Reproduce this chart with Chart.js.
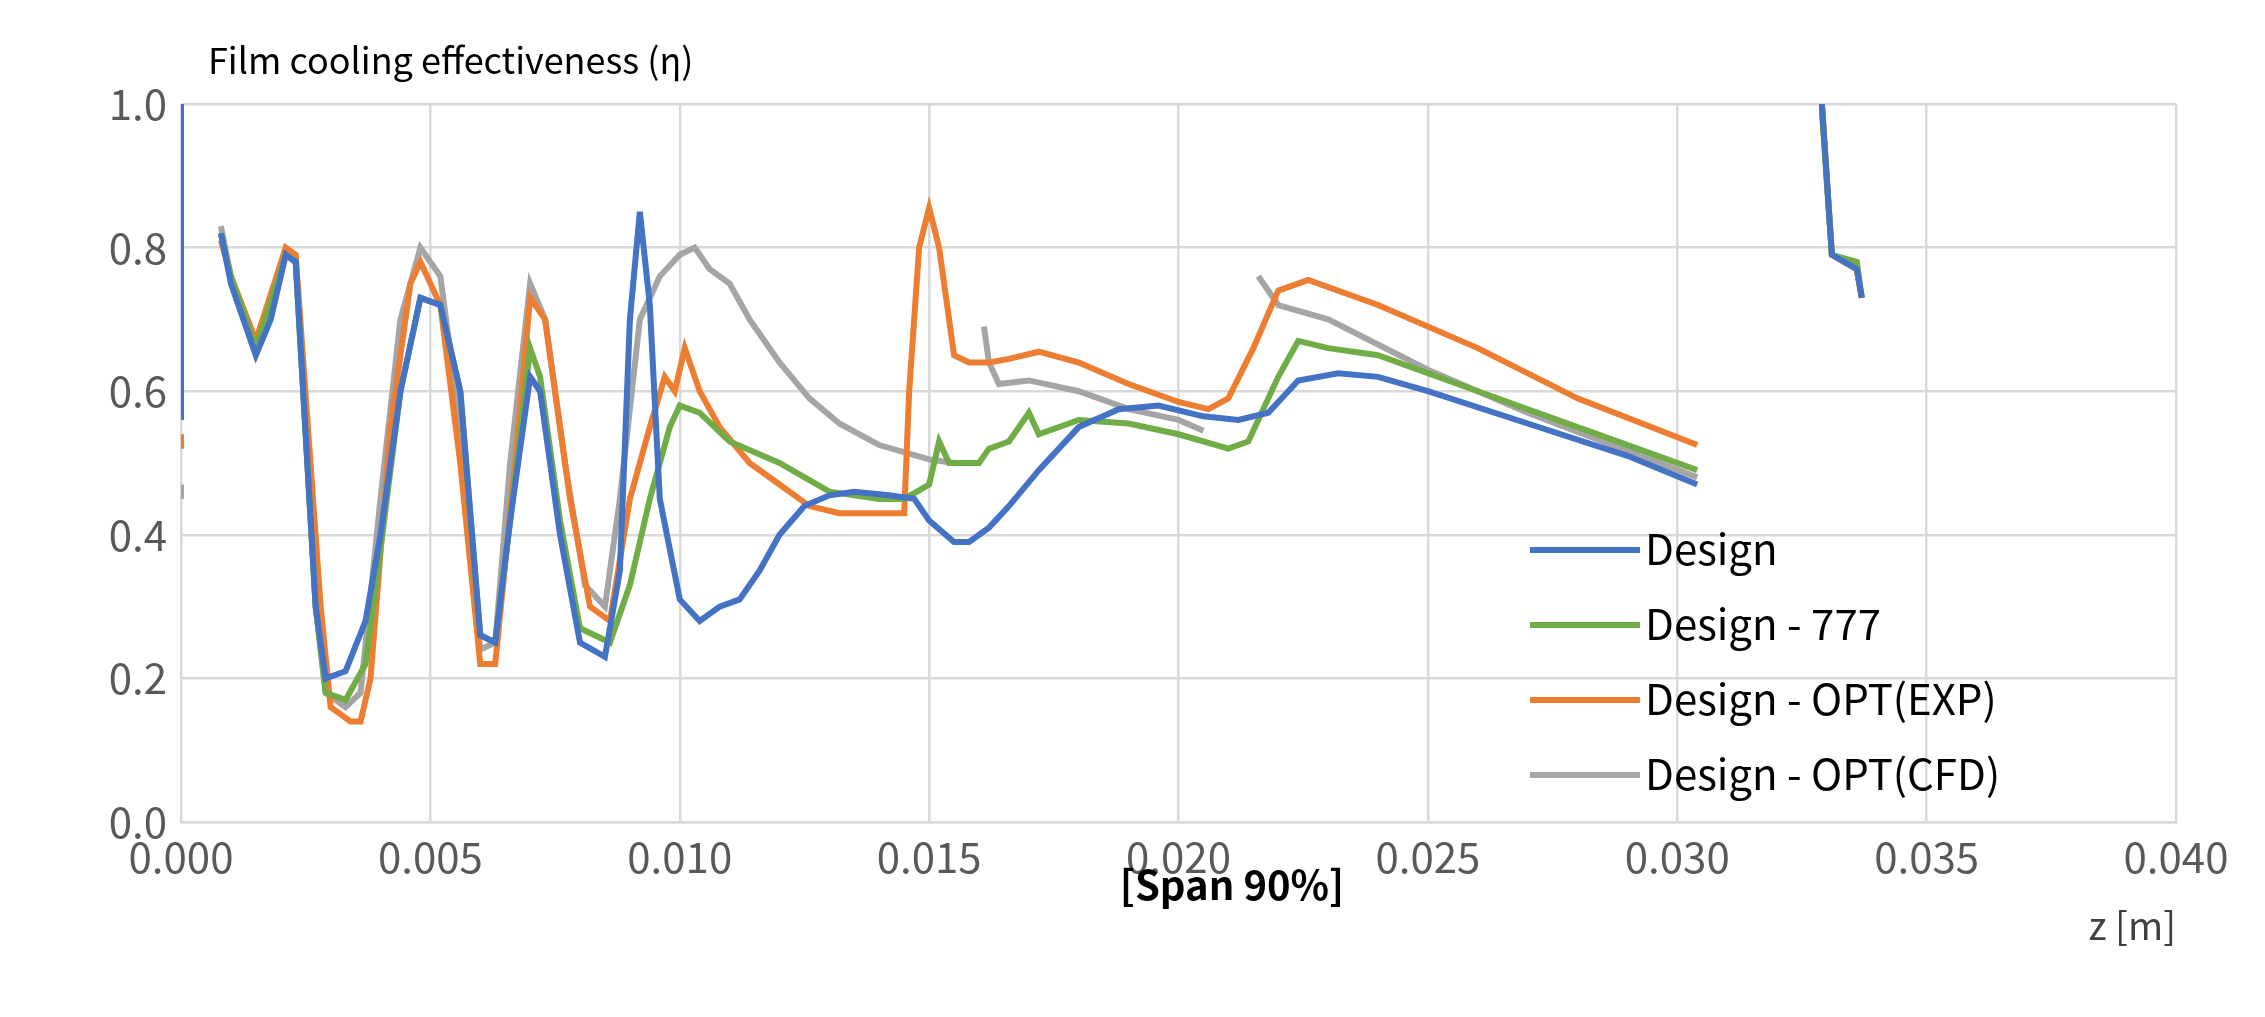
<!DOCTYPE html>
<html><head><meta charset="utf-8">
<script src="https://cdn.jsdelivr.net/npm/chart.js@4"></script>
<style>html,body{margin:0;padding:0;background:#fff}#w{width:2265px;height:1017px}</style>
</head><body><div id="w"><canvas id="c"></canvas></div>
<script>
const designX=[0,0,null,0.0008,0.001,0.0015,0.0018,0.0021,0.0023,0.0027,0.0029,0.0033,0.0037,0.0040,0.0044,0.0048,0.0052,0.0056,0.0060,0.0063,0.0066,0.0070,0.0072,0.0076,0.0080,0.0085,0.0088,0.0090,0.0092,0.0094,0.0096,0.0100,0.0104,0.0108,0.0112,0.0116,0.0120,0.0125,0.0130,0.0135,0.0142,0.0147,0.0150,0.0155,0.0158,0.0162,0.0166,0.0172,0.0180,0.0188,0.0196,0.0205,0.0212,0.0218,0.0224,0.0232,0.0240,0.0250,0.0270,0.0290,0.0304,null,0.0329,0.0331,0.0336,0.0337];
const designY=[1.0,0.56,null,0.82,0.75,0.65,0.70,0.79,0.78,0.30,0.20,0.21,0.28,0.40,0.60,0.73,0.72,0.60,0.26,0.25,0.42,0.62,0.60,0.40,0.25,0.23,0.35,0.70,0.85,0.72,0.45,0.31,0.28,0.30,0.31,0.35,0.40,0.44,0.455,0.46,0.455,0.45,0.42,0.39,0.39,0.41,0.44,0.49,0.55,0.575,0.58,0.565,0.56,0.57,0.615,0.625,0.62,0.60,0.555,0.51,0.47,null,1.0,0.79,0.77,0.73];
const d777X=[0,0,null,0.0008,0.001,0.0015,0.0021,0.0023,0.0027,0.0029,0.0033,0.0037,0.0040,0.0044,0.0048,0.0052,0.0056,0.0060,0.0063,0.0066,0.0070,0.0072,0.0076,0.0080,0.0086,0.0090,0.0094,0.0098,0.0100,0.0104,0.0110,0.0120,0.0130,0.0140,0.0145,0.0150,0.0152,0.0154,0.0160,0.0162,0.0166,0.0170,0.0172,0.0180,0.0190,0.0200,0.0210,0.0214,0.0220,0.0224,0.0230,0.0240,0.0260,0.0280,0.0304,null,0.0329,0.0331,0.0336,0.0337];
const d777Y=[0.60,0.58,null,0.82,0.76,0.66,0.79,0.78,0.30,0.18,0.17,0.22,0.38,0.60,0.73,0.72,0.60,0.26,0.25,0.42,0.66,0.62,0.42,0.27,0.25,0.33,0.45,0.55,0.58,0.57,0.53,0.50,0.46,0.45,0.45,0.47,0.53,0.50,0.50,0.52,0.53,0.57,0.54,0.56,0.555,0.54,0.52,0.53,0.62,0.67,0.66,0.65,0.60,0.55,0.49,null,0.99,0.79,0.78,0.73];
const expX=[0,0,null,0.0008,0.001,0.0015,0.0021,0.0023,0.0028,0.0030,0.0034,0.0036,0.0038,0.0042,0.0046,0.0048,0.0052,0.0056,0.0060,0.0063,0.0067,0.0070,0.0073,0.0078,0.0082,0.0086,0.0090,0.0094,0.0097,0.0099,0.0101,0.0104,0.0108,0.0114,0.0120,0.0126,0.0132,0.0140,0.0145,0.0146,0.0148,0.0150,0.0152,0.0155,0.0158,0.0162,0.0166,0.0172,0.0180,0.0190,0.0200,0.0206,0.0210,0.0215,0.0220,0.0226,0.0240,0.0260,0.0280,0.0304,null,0.0329,0.0331,0.0336,0.0337];
const expY=[0.54,0.52,null,0.81,0.76,0.67,0.80,0.79,0.30,0.16,0.14,0.14,0.20,0.55,0.75,0.78,0.72,0.50,0.22,0.22,0.50,0.73,0.70,0.45,0.30,0.28,0.45,0.55,0.62,0.60,0.66,0.60,0.55,0.50,0.47,0.44,0.43,0.43,0.43,0.60,0.80,0.855,0.80,0.65,0.64,0.64,0.645,0.655,0.64,0.61,0.585,0.575,0.59,0.66,0.74,0.755,0.72,0.66,0.59,0.525,null,1.0,0.79,0.77,0.73];
const cfdX=[0,0,null,0.0008,0.001,0.0015,0.0021,0.0023,0.0027,0.0029,0.0033,0.0036,0.0040,0.0044,0.0048,0.0052,0.0056,0.0060,0.0063,0.0066,0.0070,0.0073,0.0077,0.0081,0.0085,0.0088,0.0092,0.0096,0.0100,0.0103,0.0106,0.0110,0.0114,0.0120,0.0126,0.0132,0.0140,0.0150,0.0155,null,0.0161,0.0162,0.0164,0.0170,0.0180,0.0190,0.0200,0.0205,null,0.0216,0.0220,0.0230,0.0250,0.0270,0.0304,null,0.0329,0.0331,0.0336,0.0337];
const cfdY=[0.47,0.45,null,0.83,0.76,0.67,0.79,0.78,0.30,0.18,0.16,0.18,0.45,0.70,0.80,0.76,0.55,0.24,0.25,0.50,0.75,0.70,0.50,0.33,0.30,0.45,0.70,0.76,0.79,0.80,0.77,0.75,0.70,0.64,0.59,0.555,0.525,0.505,0.50,null,0.69,0.64,0.61,0.615,0.60,0.575,0.56,0.545,null,0.76,0.72,0.70,0.63,0.57,0.48,null,1.0,0.79,0.77,0.73];
const names=["Design","Design - 777","Design - OPT(EXP)","Design - OPT(CFD)"];
const colors=["#4472C4","#70AD47","#ED7D31","#A5A5A5"];
const xTicks=[0,0.005,0.01,0.015,0.02,0.025,0.03,0.035,0.04];
const yTicks=[0,0.2,0.4,0.6,0.8,1.0];
const pts=(xs,ys)=>xs.map((x,i)=>({x:x===null?NaN:x,y:ys[i]}));
const sets=[[designX,designY],[d777X,d777Y],[expX,expY],[cfdX,cfdY]];
const order=[0,1,2,3];
const FONT="'Noto Sans CJK KR','Noto Sans',sans-serif";
const deco={id:'deco',afterDraw(ch){const c=ch.ctx;c.save();c.fillStyle='#000';c.textBaseline='alphabetic';
c.font="36px "+FONT;c.textAlign='left';c.fillText('Film cooling effectiveness (η)',208,74);
c.font="bold 40px "+FONT;c.textAlign='center';c.fillText('[Span 90%]',1232,900);
c.font="38px "+FONT;c.textAlign='right';c.fillStyle='#404040';c.fillText('z [m]',2176,940);
c.font="42px "+FONT;c.textAlign='left';c.fillStyle='#000';
for(let i=0;i<4;i++){const y=550+i*75;c.strokeStyle=colors[i];c.lineWidth=6;c.beginPath();c.moveTo(1530,y);c.lineTo(1640,y);c.stroke();c.fillText(names[i],1645,y+15);}
c.restore();}};
new Chart(document.getElementById('c'),{type:'line',
data:{datasets:order.map(i=>({label:names[i],data:pts(sets[i][0],sets[i][1]),borderColor:colors[i],borderWidth:6,pointRadius:0,fill:false,tension:0,spanGaps:false}))},
options:{responsive:true,maintainAspectRatio:false,animation:false,
layout:{padding:{top:104,right:89,left:0,bottom:0}},
plugins:{legend:{display:false},tooltip:{enabled:false}},
scales:{x:{type:'linear',min:0,max:0.04,afterBuildTicks:s=>{s.ticks=xTicks.map(v=>({value:v}))},
ticks:{color:'#595959',font:{size:42,family:FONT},callback:v=>v.toFixed(3),maxRotation:0,padding:10},
grid:{color:'#d9d9d9',lineWidth:2.5,drawTicks:false},border:{color:'#d9d9d9',width:2.5},afterFit:s=>{s.height=195}},
y:{min:0,max:1,afterBuildTicks:s=>{s.ticks=yTicks.map(v=>({value:v}))},
ticks:{color:'#595959',font:{size:42,family:FONT},callback:v=>v.toFixed(1),padding:14},
grid:{color:'#d9d9d9',lineWidth:2.5,drawTicks:false},border:{display:false},afterFit:s=>{s.width=181}}}},
plugins:[deco]});
</script></body></html>
